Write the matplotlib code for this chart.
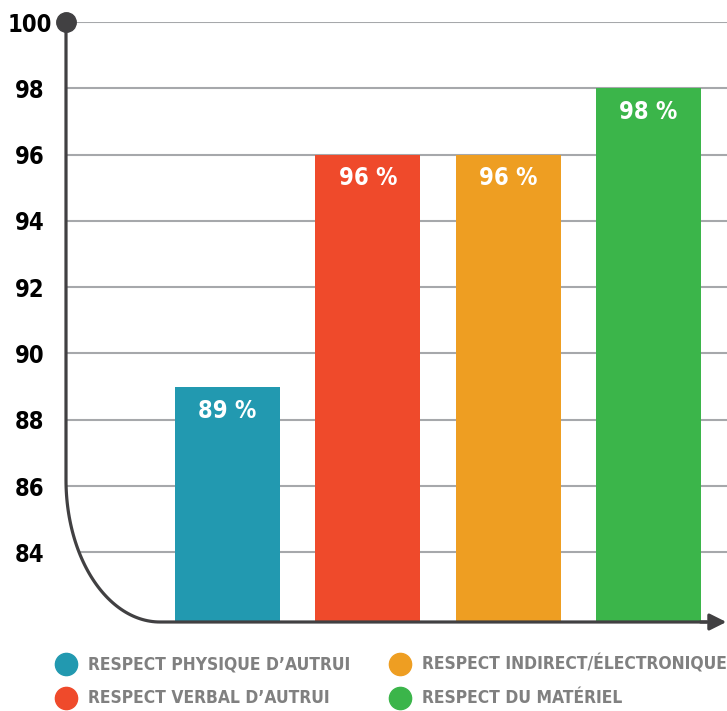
import matplotlib.pyplot as plt
from matplotlib import font_manager
from matplotlib.lines import Line2D
import numpy as np

categories = ['RESPECT PHYSIQUE D\u2019AUTRUI', 'RESPECT VERBAL D\u2019AUTRUI',
              'RESPECT INDIRECT/\u00c9LECTRONIQUE', 'RESPECT DU MAT\u00c9RIEL']
values = [89, 96, 96, 98]
labels = ['89 %', '96 %', '96 %', '98 %']
colors = ['#2299b0', '#ef4a2b', '#ee9e22', '#3bb54a']
yticks = [84, 86, 88, 90, 92, 94, 96, 98, 100]

# look for a bold condensed face
cond = [f for f in font_manager.fontManager.ttflist
        if ('ondensed' in str(f.stretch) or 'Narrow' in f.name or 'Condensed' in f.name
            or 'ondensed' in f.fname or 'Narrow' in f.fname)
        and (f.weight in ('bold', 700) or 'Bold' in f.fname)]
if cond:
    cond.sort(key=lambda f: f.fname)
    prop = font_manager.FontProperties(fname=cond[0].fname)
else:
    prop = font_manager.FontProperties(family='DejaVu Sans', weight='bold')

dark = '#414042'

W, H = 727, 711
fig = plt.figure(figsize=(W / 100, H / 100), dpi=100)
ax = fig.add_axes([66 / W, 89 / H, 661 / W, 600 / H])

x = np.arange(len(values))
ax.bar(x, [v - 81.9 for v in values], bottom=81.9, width=0.75, color=colors, zorder=2)
for xi, v, lab in zip(x, values, labels):
    ax.text(xi, v - 0.72, lab, ha='center', va='center', color='white',
            fontproperties=prop, fontsize=17, zorder=3)

ax.set_xlim(-1.151, 3.559)
ax.set_ylim(81.9, 100)
ax.set_xticks([])
ax.set_yticks(yticks)
ax.set_yticklabels([str(t) for t in yticks], fontproperties=prop, fontsize=17, ha='center')
ax.tick_params(axis='y', length=0, pad=26)
for s in ax.spines.values():
    s.set_visible(False)
ax.set_axisbelow(True)
ax.grid(axis='y', color='#a6a8ab', lw=1.5)

# rounded corner of the axes
rx, ry = 94 / 661, 142 / 600
t = np.linspace(np.pi, 1.5 * np.pi, 60)
arc_x = rx + rx * np.cos(t)
arc_y = ry + ry * np.sin(t)
ax.fill(np.r_[0, arc_x, 0], np.r_[ry, arc_y, 0], color='white', transform=ax.transAxes,
        zorder=1.5, clip_on=False, lw=0)
ax.plot(np.r_[0, arc_x, 0.97], np.r_[1, arc_y, 0], color=dark, lw=2.3,
        transform=ax.transAxes, clip_on=False, zorder=4, solid_capstyle='butt')
ax.plot(0, 1, 'o', ms=14, color=dark, transform=ax.transAxes, clip_on=False, zorder=5)
ax.annotate('', xy=(0.999, 0), xytext=(0.96, 0), xycoords='axes fraction',
            arrowprops=dict(arrowstyle='-|>,head_length=1.0,head_width=0.5',
                            color=dark, lw=2.3, shrinkA=0, shrinkB=0), zorder=5)

# legend
for i, (cat, c) in enumerate(zip(categories, colors)):
    col, row = i // 2, i % 2
    cx = [66, 400][col]
    cy = [664, 698][row]
    fig.add_artist(Line2D([cx / W], [1 - cy / H], marker='o', ms=16, color=c, lw=0))
    fig.text((cx + 22) / W, 1 - cy / H, cat, ha='left', va='center', color='#808080',
             fontproperties=prop, fontsize=12.5)

fig.savefig('out.png', dpi=100)
